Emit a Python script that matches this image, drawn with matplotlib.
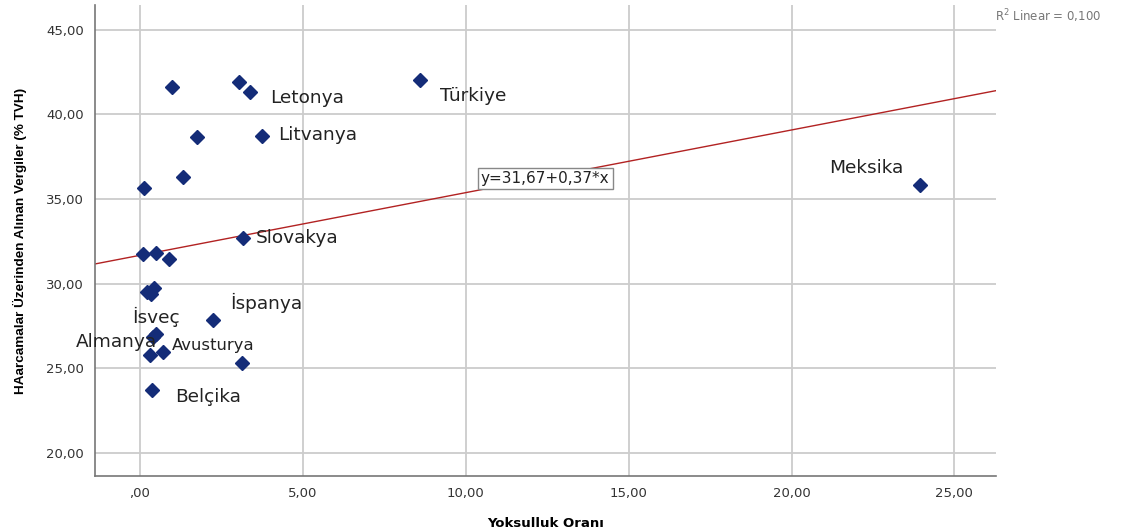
import numpy as np
import matplotlib.pyplot as plt

# Veri
yoksulluk = [8.61, 3.37, 3.03, 0.98, 1.75, 3.74, 1.32, 0.12, 23.93, 3.16,
             0.09, 0.49, 0.89, 0.21, 0.43, 0.34, 2.24, 0.49, 0.39, 0.32,
             0.70, 3.12, 0.37]
vergi = [42.02, 41.31, 41.90, 41.60, 38.65, 38.71, 36.29, 35.64, 35.82, 32.69,
         31.75, 31.80, 31.46, 29.50, 29.74, 29.38, 27.85, 27.00, 26.87, 25.79,
         25.98, 25.31, 23.70]

etiketler = ["Türkiye", "Letonya", "Litvanya", "Meksika", "Slovakya",
             "İspanya", "İsveç", "Almanya", "Avusturya", "Belçika"]
etiket_x = [9.22, 4.0, 4.23, 21.14, 3.55, 2.76, -0.25, -1.96, 0.98, 1.07]
etiket_y = [41.07, 40.96, 38.77, 36.82, 32.69, 28.85, 28.05, 26.55, 26.32, 23.31]
etiket_boyut = [13.3, 13.3, 13.3, 13.3, 13.3, 13.3, 13.3, 13.3, 11.8, 13.3]

# Regresyon katsayıları
b0, b1 = 31.67, 0.37
r2 = 0.100

xticks = [0, 5, 10, 15, 20, 25]
xticklabels = [",00", "5,00", "10,00", "15,00", "20,00", "25,00"]
yticks = [20, 25, 30, 35, 40, 45]
yticklabels = ["20,00", "25,00", "30,00", "35,00", "40,00", "45,00"]

fig = plt.figure(figsize=(11.31, 5.31), dpi=100)
ax = fig.add_axes([0.084, 0.1036, 0.797, 0.887])

xmin, xmax = -1.38, 26.29
ax.set_xlim(xmin, xmax)
ax.set_ylim(18.64, 46.45)

ax.set_xticks(xticks)
ax.set_xticklabels(xticklabels)
ax.set_yticks(yticks)
ax.set_yticklabels(yticklabels)
ax.tick_params(length=0, labelsize=9.5, labelcolor="#333333", pad=8)
ax.grid(True, color="#cccccc", linewidth=1.3)
ax.set_axisbelow(True)

for s in ["top", "right"]:
    ax.spines[s].set_visible(False)
for s in ["left", "bottom"]:
    ax.spines[s].set_color("#777777")
    ax.spines[s].set_linewidth(1.2)

# Regresyon doğrusu
lx = np.array([xmin, xmax])
ax.plot(lx, b0 + b1 * lx, color="#b22222", linewidth=1, zorder=2)

ax.plot(yoksulluk, vergi, linestyle="none", marker="D", markersize=7.5,
        color="#142c78", zorder=3)

for t, x, y, fs in zip(etiketler, etiket_x, etiket_y, etiket_boyut):
    ax.text(x, y, t, fontsize=fs, color="#222222", va="center", ha="left",
            zorder=4)

ax.text(12.44, 36.23, "y=31,67+0,37*x", fontsize=11, color="#222222",
        ha="center", va="center",
        bbox=dict(boxstyle="square,pad=0.2", facecolor="white", edgecolor="#888888"))

fig.text(0.88, 0.97, "R$^2$ Linear = " + f"{r2:.3f}".replace(".", ","),
         fontsize=8.5, color="#777777", ha="left", va="center")

ax.set_xlabel("Yoksulluk Oranı", fontsize=9.5, fontweight="bold", labelpad=12)
ax.set_ylabel("HAarcamalar Üzerinden Alınan Vergiler (% TVH)", fontsize=9.7,
              fontweight="bold", labelpad=14,
              family=["Liberation Sans", "DejaVu Sans"])

plt.savefig("out.png", dpi=100)
